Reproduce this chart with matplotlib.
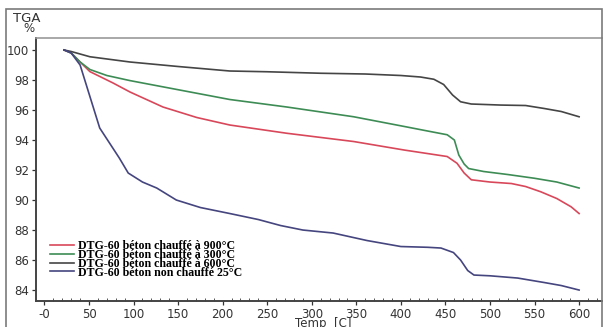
import matplotlib
matplotlib.use("Agg")
import matplotlib.pyplot as plt
from matplotlib.patches import Rectangle
from matplotlib.ticker import MultipleLocator

# ---- data ----
t_900 = [22, 30, 40, 51, 77, 96, 133, 171, 208, 272, 347, 404, 452, 463, 471, 479, 500, 524, 540, 557, 575, 591, 600]
v_900 = [100, 99.8, 99.2, 98.56, 97.8, 97.2, 96.2, 95.5, 95.0, 94.45, 93.9, 93.33, 92.9, 92.45, 91.8, 91.35, 91.2, 91.1, 90.9, 90.55, 90.1, 89.55, 89.1]

t_300 = [22, 30, 40, 51, 70, 96, 152, 208, 272, 347, 404, 430, 452, 460, 465, 471, 476, 493, 520, 550, 575, 600]
v_300 = [100, 99.8, 99.2, 98.7, 98.3, 97.96, 97.33, 96.7, 96.2, 95.55, 94.9, 94.6, 94.35, 94.0, 93.0, 92.4, 92.1, 91.9, 91.7, 91.45, 91.2, 90.8]

t_600 = [22, 30, 51, 96, 150, 208, 250, 310, 360, 400, 422, 437, 448, 458, 467, 479, 512, 540, 561, 580, 600]
v_600 = [100, 99.9, 99.55, 99.2, 98.9, 98.6, 98.55, 98.45, 98.4, 98.3, 98.2, 98.05, 97.7, 97.0, 96.55, 96.4, 96.33, 96.3, 96.1, 95.9, 95.55]

t_25 = [22, 30, 40, 51, 62, 73, 84, 94, 110, 126, 148, 175, 208, 240, 265, 290, 324, 362, 400, 430, 445, 459, 467, 475, 482, 500, 531, 561, 580, 600]
v_25 = [100, 99.8, 99.0, 96.9, 94.8, 93.8, 92.8, 91.8, 91.2, 90.8, 90.0, 89.5, 89.1, 88.7, 88.3, 88.0, 87.8, 87.3, 86.9, 86.85, 86.8, 86.5, 86.0, 85.3, 85.0, 84.95, 84.8, 84.5, 84.3, 84.0]

labels = ["DTG-60 béton chauffé à 900°C",
          "DTG-60 béton chauffé à 300°C",
          "DTG-60 béton chauffé à 600°C",
          "DTG-60 béton non chauffé 25°C"]
colors = ["#d8485a", "#3e8c55", "#454545", "#45457f"]

x_ticks = [0, 50, 100, 150, 200, 250, 300, 350, 400, 450, 500, 550, 600]
x_ticklabels = ["-0", "50", "100", "150", "200", "250", "300", "350", "400", "450", "500", "550", "600"]
y_ticks = [84, 86, 88, 90, 92, 94, 96, 98, 100]

# ---- figure ----
fig = plt.figure(figsize=(6.04, 3.27), dpi=100)
fig.patch.set_facecolor("white")
# outer frame
fig.patches.append(Rectangle((6 / 604, -0.01), (602 - 6) / 604, (327 - 9) / 327 + 0.01,
                             transform=fig.transFigure, fill=False,
                             edgecolor="#7a7a7a", linewidth=1.2))

ax = fig.add_axes([36 / 604, (327 - 301) / 327, (602 - 36) / 604, (301 - 37.7) / 327])
series = [(t_900, v_900), (t_300, v_300), (t_600, v_600), (t_25, v_25)]
handles = []
for (t, v), c, lab in zip(series, colors, labels):
    h, = ax.plot(t, v, color=c, linewidth=1.2, label=lab)
    handles.append(h)

ax.set_xlim(-9.5, 625.7)
ax.set_ylim(83.27, 100.82)
ax.set_xticks(x_ticks)
ax.set_xticklabels(x_ticklabels)
ax.set_yticks(y_ticks)
ax.xaxis.set_minor_locator(MultipleLocator(10))
ax.tick_params(axis="both", which="major", labelsize=8.5, length=3, width=0.9,
               colors="#333333", pad=2)
ax.tick_params(axis="x", which="minor", length=2, width=0.7, direction="in", colors="#555555")
for side in ["left", "bottom"]:
    ax.spines[side].set_linewidth(1.4)
    ax.spines[side].set_color("#444444")
ax.spines["top"].set_color("#999999")
ax.spines["top"].set_linewidth(1.2)
ax.spines["right"].set_visible(False)

fig.text(27 / 604, 1 - 18 / 327, "TGA", fontsize=9.5, ha="center", va="center", color="#333333")
fig.text(29 / 604, 1 - 29 / 327, "%", fontsize=8.5, ha="center", va="center", color="#333333")
fig.text(323 / 604, 1 - 324 / 327, "Temp  [C]", fontsize=8.5, ha="center", va="center", color="#333333")

leg = ax.legend(handles=handles, loc="upper left", bbox_to_anchor=(0.016, 0.249),
                frameon=False,
                prop={"family": "Liberation Serif", "weight": "bold", "size": 8.6},
                handlelength=2.0, handletextpad=0.35, labelspacing=-0.27,
                borderaxespad=0.0)

fig.savefig("out.png", dpi=100, facecolor="white")
